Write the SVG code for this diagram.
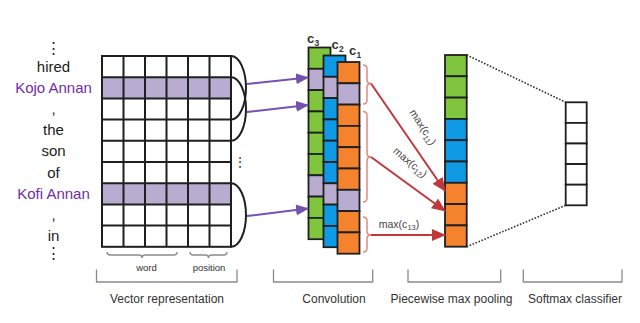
<svg xmlns="http://www.w3.org/2000/svg" width="640" height="323" viewBox="0 0 640 323">
<style>
text{font-family:"Liberation Sans",Arial,sans-serif;}
.w{font-size:15px;fill:#222;text-anchor:middle;}
.ent{fill:#6f2da8;}
.cell{stroke:#1f1f1f;stroke-width:1.8;}
.g{fill:#7fc63e;}
.b{fill:#0f9ae6;}
.o{fill:#f5832e;}
.p{fill:#b9acd1;}
.wh{fill:#fff;}
.gl{stroke:#1f1f1f;stroke-width:2;fill:none;}
.arc{stroke:#1f1f1f;stroke-width:2;fill:none;}
.pa{stroke:#7652b0;stroke-width:2;fill:none;}
.ra{stroke:#c0383c;stroke-width:2;fill:none;}
.br{stroke:#e3897c;stroke-width:1.5;fill:none;}
.bk{stroke:#8a8a8a;stroke-width:1.3;fill:none;}
.lab{font-size:12px;fill:#333;text-anchor:middle;}
.small{font-size:9.5px;fill:#333;text-anchor:middle;}
.mx{font-size:10.5px;fill:#444;text-anchor:middle;}
.cl{font-size:13px;font-weight:bold;fill:#333;}
.cs{font-size:8.5px;font-weight:bold;fill:#333;}
</style>
<defs>
<marker id="ap" markerUnits="userSpaceOnUse" markerWidth="13" markerHeight="11" refX="12" refY="5.5" orient="auto"><path d="M0,0 L13,5.5 L0,11 z" fill="#7652b0"/></marker>
<marker id="ar" markerUnits="userSpaceOnUse" markerWidth="14" markerHeight="12" refX="13" refY="6" orient="auto"><path d="M0,0 L14,6 L0,12 z" fill="#c0383c"/></marker>
</defs>

<g id="words">
<text class="w" x="53.5" y="53" font-size="12">⋮</text>
<text class="w" x="53.5" y="72">hired</text>
<text class="w ent" x="53.5" y="93">Kojo Annan</text>
<text class="w" x="53.5" y="114">,</text>
<text class="w" x="53.5" y="135">the</text>
<text class="w" x="53.5" y="156">son</text>
<text class="w" x="53.5" y="177.5">of</text>
<text class="w ent" x="53.5" y="198.5">Kofi Annan</text>
<text class="w" x="53.5" y="220">,</text>
<text class="w" x="53.5" y="240.5">in</text>
<text class="w" x="53.5" y="258">⋮</text>
</g>

<g id="vector-grid">
<rect x="102" y="77.2" width="129" height="21.2" class="p"/>
<rect x="102" y="183.2" width="129" height="21.2" class="p"/>
<rect x="102" y="56" width="129" height="190.8" class="gl"/>
<path class="gl" d="M123.5,56V246.8M145,56V246.8M166.5,56V246.8M188,56V246.8M209.5,56V246.8
M102,77.2H231M102,98.4H231M102,119.6H231M102,140.8H231M102,162H231M102,183.2H231M102,204.4H231M102,225.6H231"/>
<path class="arc" d="M231,56 A15,31.8 0 0 1 231,119.6"/>
<path class="arc" d="M231,77.2 A15,31.8 0 0 1 231,140.8"/>
<path class="arc" d="M231,183.2 A15,31.8 0 0 1 231,246.8"/>
<text x="240" y="167" font-size="14" fill="#444" text-anchor="middle">⋮</text>
</g>

<g id="conv-c3">
<rect class="cell g" x="308.5" y="47.5" width="22" height="21.3"/>
<rect class="cell p" x="308.5" y="68.8" width="22" height="21.3"/>
<rect class="cell g" x="308.5" y="90.1" width="22" height="21.3"/>
<rect class="cell g" x="308.5" y="111.4" width="22" height="21.3"/>
<rect class="cell g" x="308.5" y="132.7" width="22" height="21.3"/>
<rect class="cell g" x="308.5" y="154" width="22" height="21.3"/>
<rect class="cell p" x="308.5" y="175.3" width="22" height="21.3"/>
<rect class="cell g" x="308.5" y="196.6" width="22" height="21.3"/>
<rect class="cell g" x="308.5" y="217.9" width="22" height="21.3"/>
<text class="cl" x="307" y="43">c</text><text class="cs" x="314.5" y="46">3</text>
</g>
<g id="conv-c2">
<rect class="cell b" x="323.5" y="55.5" width="22" height="21.3"/>
<rect class="cell p" x="323.5" y="76.8" width="22" height="21.3"/>
<rect class="cell b" x="323.5" y="98.1" width="22" height="21.3"/>
<rect class="cell b" x="323.5" y="119.4" width="22" height="21.3"/>
<rect class="cell b" x="323.5" y="140.7" width="22" height="21.3"/>
<rect class="cell b" x="323.5" y="162" width="22" height="21.3"/>
<rect class="cell p" x="323.5" y="183.3" width="22" height="21.3"/>
<rect class="cell b" x="323.5" y="204.6" width="22" height="21.3"/>
<rect class="cell b" x="323.5" y="225.9" width="22" height="21.3"/>
<text class="cl" x="331.5" y="49">c</text><text class="cs" x="339" y="52">2</text>
</g>
<g id="conv-c1">
<rect class="cell o" x="337.5" y="62" width="22" height="21.3"/>
<rect class="cell p" x="337.5" y="83.3" width="22" height="21.3"/>
<rect class="cell o" x="337.5" y="104.6" width="22" height="21.3"/>
<rect class="cell o" x="337.5" y="125.9" width="22" height="21.3"/>
<rect class="cell o" x="337.5" y="147.2" width="22" height="21.3"/>
<rect class="cell o" x="337.5" y="168.5" width="22" height="21.3"/>
<rect class="cell p" x="337.5" y="189.8" width="22" height="21.3"/>
<rect class="cell o" x="337.5" y="211.1" width="22" height="21.3"/>
<rect class="cell o" x="337.5" y="232.4" width="22" height="21.3"/>
<text class="cl" x="349" y="55">c</text><text class="cs" x="356.5" y="58">1</text>
</g>

<g id="pooling">
<rect class="cell g" x="445" y="55" width="21.7" height="21.3"/>
<rect class="cell g" x="445" y="76.3" width="21.7" height="21.3"/>
<rect class="cell g" x="445" y="97.6" width="21.7" height="21.3"/>
<rect class="cell b" x="445" y="118.9" width="21.7" height="21.3"/>
<rect class="cell b" x="445" y="140.2" width="21.7" height="21.3"/>
<rect class="cell b" x="445" y="161.5" width="21.7" height="21.3"/>
<rect class="cell o" x="445" y="182.8" width="21.7" height="21.3"/>
<rect class="cell o" x="445" y="204.1" width="21.7" height="21.3"/>
<rect class="cell o" x="445" y="225.4" width="21.7" height="21.3"/>
</g>

<g id="softmax">
<rect class="cell wh" x="565.7" y="102.3" width="21" height="20.6"/>
<rect class="cell wh" x="565.7" y="122.9" width="21" height="20.6"/>
<rect class="cell wh" x="565.7" y="143.5" width="21" height="20.6"/>
<rect class="cell wh" x="565.7" y="164.1" width="21" height="20.6"/>
<rect class="cell wh" x="565.7" y="184.7" width="21" height="20.6"/>
</g>

<g id="connectors">
<line class="pa" x1="247" y1="84" x2="308" y2="77.5" marker-end="url(#ap)"/>
<line class="pa" x1="247" y1="112" x2="308" y2="105" marker-end="url(#ap)"/>
<line class="pa" x1="247" y1="216" x2="308" y2="208.5" marker-end="url(#ap)"/>
<path class="br" d="M363,65 Q367,65 367,69 L367,80 Q367,83.5 371,83.5 Q367,83.5 367,87 L367,100 Q367,104 363,104"/>
<path class="br" d="M363,111.5 Q367,111.5 367,115.5 L367,153.5 Q367,157 371,157 Q367,157 367,160.5 L367,198 Q367,202 363,202"/>
<path class="br" d="M363,217 Q367,217 367,221 L367,231.5 Q367,235 371,235 Q367,235 367,238.5 L367,248 Q367,252 363,252"/>
<line class="ra" x1="371" y1="83.5" x2="445" y2="191" marker-end="url(#ar)"/>
<line class="ra" x1="371" y1="157" x2="445" y2="211" marker-end="url(#ar)"/>
<line class="ra" x1="371" y1="235" x2="445" y2="235" marker-end="url(#ar)"/>
<line x1="466.7" y1="55" x2="565.7" y2="102.3" stroke="#333" stroke-width="1.6" stroke-dasharray="1.6,1.6"/>
<line x1="466.7" y1="246.7" x2="565.7" y2="205.3" stroke="#333" stroke-width="1.6" stroke-dasharray="1.6,1.6"/>
<text class="mx" transform="translate(420,129) rotate(57)">max(c<tspan font-size="7.5" dy="2.5">11</tspan><tspan dy="-2.5">)</tspan></text>
<text class="mx" transform="translate(408,165) rotate(40)">max(c<tspan font-size="7.5" dy="2.5">12</tspan><tspan dy="-2.5">)</tspan></text>
<text class="mx" x="399" y="227.5">max(c<tspan font-size="7.5" dy="2.5">13</tspan><tspan dy="-2.5">)</tspan></text>
</g>

<g id="labels">
<path class="bk" d="M107,252 Q107,255 110,255 L139,255 Q142,255 142,258 Q142,255 145,255 L174,255 Q177,255 177,252"/>
<path class="bk" d="M190,252 Q190,255 193,255 L205.5,255 Q208.5,255 208.5,258 Q208.5,255 211.5,255 L224,255 Q227,255 227,252"/>
<text class="small" x="146.5" y="271">word</text>
<text class="small" x="209" y="271">position</text>
<path class="bk" d="M96.5,269.5 V282 H237 V269.5"/>
<path class="bk" d="M273.5,269.5 V282 H372.7 V269.5"/>
<path class="bk" d="M408,269.5 V282 H500.7 V269.5"/>
<path class="bk" d="M523.3,269.5 V282 H622 V269.5"/>
<text class="lab" x="167" y="303">Vector representation</text>
<text class="lab" x="334" y="303">Convolution</text>
<text class="lab" x="451.5" y="303">Piecewise max pooling</text>
<text class="lab" x="575" y="303">Softmax classifier</text>
</g>
</svg>
